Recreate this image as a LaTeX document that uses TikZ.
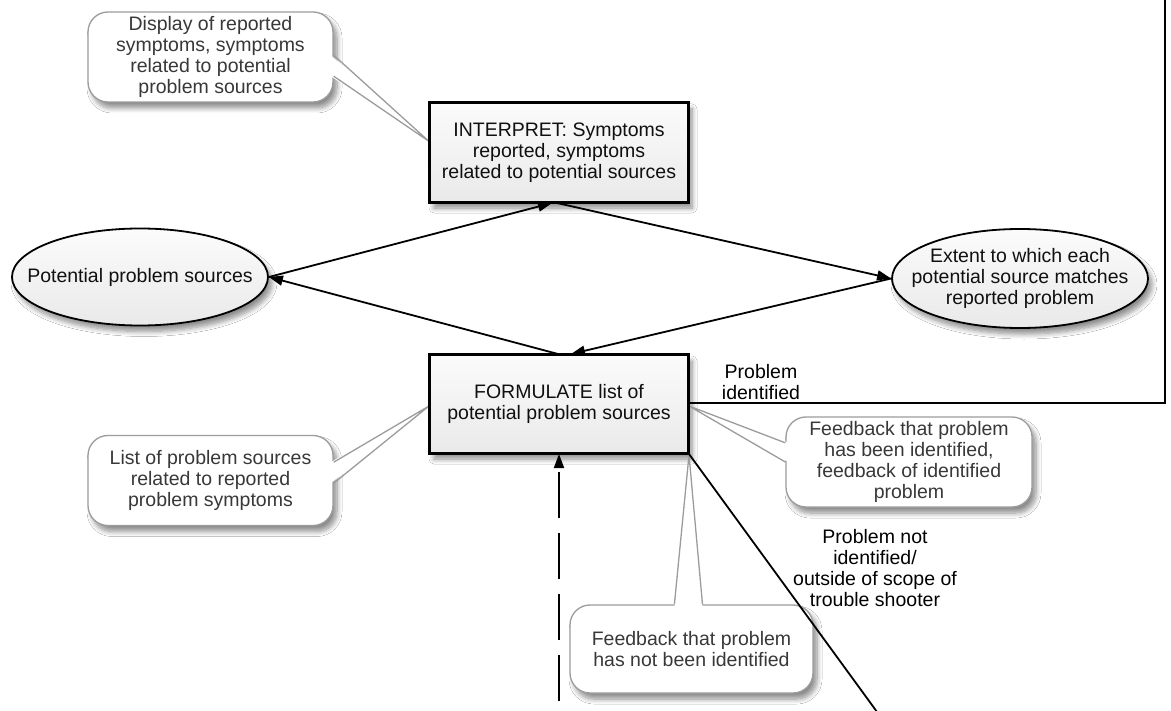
\documentclass[tikz,border=0pt]{standalone}
\usepackage{fontspec}
\setmainfont{Liberation Sans}
\usetikzlibrary{arrows.meta,shapes.geometric,shadows,shadows.blur,calc}
\definecolor{boxtext}{HTML}{101010}
\definecolor{calloutline}{HTML}{9C9C9C}
\definecolor{callouttext}{HTML}{383838}
\definecolor{shadowcol}{HTML}{555555}
\pgfdeclarelayer{bg}
\pgfsetlayers{bg,main}
\tikzset{
  txt/.style={font=\fontsize{19.5}{21}\selectfont, align=center, text=boxtext},
  softshadow/.style={blur shadow={shadow xshift=4pt, shadow yshift=-6pt, shadow blur radius=5pt, shadow blur steps=8, shadow opacity=45}},
  procbox/.style={rectangle, draw=black, line width=2pt, top color=gray!3, bottom color=gray!17,
    minimum width=258pt, minimum height=99pt, inner sep=0pt, txt, softshadow},
  databubble/.style={ellipse, draw=black, line width=1.8pt, top color=gray!3, bottom color=gray!17,
    minimum width=256pt, minimum height=98pt, inner sep=0pt, softshadow},
  callbox/.style={rectangle, rounded corners=20pt, draw=calloutline, line width=1.3pt, fill=white,
    minimum width=245pt, minimum height=90pt, inner sep=0pt, txt, text=callouttext, softshadow},
  wedgeline/.style={draw=calloutline, line width=1.3pt, line join=miter},
  wedgeshadow/.style={fill=shadowcol, opacity=0.18},
  flow/.style={line width=1.8pt, -{Triangle[length=14pt,width=10pt]}},
  plainline/.style={line width=1.8pt},
  lbl/.style={txt, text=black},
}
\begin{document}
\begin{tikzpicture}[x=1pt,y=-1pt]
\useasboundingbox (0,0) rectangle (1171,711);
\fill[white] (0,0) rectangle (1171,711);

% callouts
\node[callbox] (cA) at (210.5,57) {Display of reported\\symptoms, symptoms\\related to potential\\problem sources};
\node[callbox] (cL) at (210.5,480.5) {List of problem sources\\related to reported\\problem symptoms};
\node[callbox, minimum width=246pt] (cR) at (909,462) {Feedback that problem\\has been identified,\\feedback of identified\\problem};
\node[callbox, minimum width=243pt, minimum height=88pt] (cN) at (691.5,649) {Feedback that problem\\has not been identified};

% process boxes
\node[procbox] (I) at (559,152.5) {INTERPRET: Symptoms\\reported, symptoms\\related to potential sources};
\node[procbox, minimum height=98pt] (F) at (559,404) {FORMULATE list of\\potential problem sources};

% data ellipses
\node[databubble, minimum height=97pt] (P) at (140,277) {};
\node[txt] (Pt) at (P) {Potential problem sources};
\node[databubble, minimum height=99pt] (E) at (1020,278.5) {};
\node[txt] (Et) at (E) {Extent to which each\\potential source matches\\reported problem};

% callout pointer coordinates
\coordinate (aB1) at ($(cA.north east)!0.48!(cA.south east)$);
\coordinate (aB2) at ($(cA.north east)!0.71!(cA.south east)$);
\coordinate (aT)  at ($(I.north west)!0.39!(I.south west)$);
\coordinate (lB1) at ($(cL.north east)!0.30!(cL.south east)$);
\coordinate (lB2) at ($(cL.north east)!0.53!(cL.south east)$);
\coordinate (lT)  at ($(F.north west)!0.52!(F.south west)$);
\coordinate (rB1) at ($(cR.north west)!0.29!(cR.south west)$);
\coordinate (rB2) at ($(cR.north west)!0.50!(cR.south west)$);
\coordinate (rT)  at ($(F.north east)!0.52!(F.south east)$);
\coordinate (nB1) at ($(cN.north west)!0.43!(cN.north east)$);
\coordinate (nB2) at ($(cN.north west)!0.545!(cN.north east)$);
\coordinate (nT)  at ($(F.south east)+(0,1)$);

% pointer shadows
\begin{pgfonlayer}{bg}
\fill[wedgeshadow] ($(aB1)+(4,6)$) -- ($(aT)+(4,6)$) -- ($(aB2)+(4,6)$) -- cycle;
\fill[wedgeshadow] ($(lB1)+(4,6)$) -- ($(lT)+(4,6)$) -- ($(lB2)+(4,6)$) -- cycle;
\fill[wedgeshadow] ($(rB1)+(4,6)$) -- ($(rT)+(4,6)$) -- ($(rB2)+(4,6)$) -- cycle;
\fill[wedgeshadow] ($(nB1)+(4,6)$) -- ($(nT)+(4,6)$) -- ($(nB2)+(4,6)$) -- cycle;
\end{pgfonlayer}

% pointers
\fill[white] ($(aB1)+(-3,0)$) -- (aT) -- ($(aB2)+(-3,0)$) -- cycle;
\draw[wedgeline] (aB1) -- (aT) -- (aB2);
\fill[white] ($(lB1)+(-3,0)$) -- (lT) -- ($(lB2)+(-3,0)$) -- cycle;
\draw[wedgeline] (lB1) -- (lT) -- (lB2);
\fill[white] ($(rB1)+(3,0)$) -- (rT) -- ($(rB2)+(3,0)$) -- cycle;
\draw[wedgeline] (rB1) -- (rT) -- (rB2);
\fill[white] ($(nB1)+(0,3)$) -- (nT) -- ($(nB2)+(0,3)$) -- cycle;
\draw[wedgeline] (nB1) -- (nT) -- (nB2);

% redraw box borders over pointer tips
\draw[line width=2pt] (I.north west) rectangle (I.south east);
\draw[line width=2pt] (F.north west) rectangle (F.south east);

% cycle of connectors
\draw[flow] (P.east) -- ($(I.south)+(-7,0)$);
\draw[flow] ($(I.south)+(-2,0)$) -- (E.west);
\draw[flow] (E.west) -- ($(F.north)+(12,0)$);
\draw[flow] ($(F.north)+(-1,0)$) -- (P.east);

% problem identified loop
\coordinate (rc) at (1165,403);
\coordinate (rtop) at (1165,-5);
\draw[plainline] (F.east |- rc) -- (rc) -- (rtop);
\node[lbl] (lblA) at (761,382) {Problem\\identified};

% problem not identified
\coordinate (diagEnd) at (880,716);
\draw[plainline] (F.south east) -- (diagEnd);
\node[lbl] (lblB) at (875,568) {Problem not\\identified/\\outside of scope of\\trouble shooter};

% dashed input
\coordinate (dstart) at (559,716);
\draw[flow, dash pattern=on 46pt off 15pt, dash phase=46pt] (dstart) -- (F.south);
\end{tikzpicture}
\end{document}
